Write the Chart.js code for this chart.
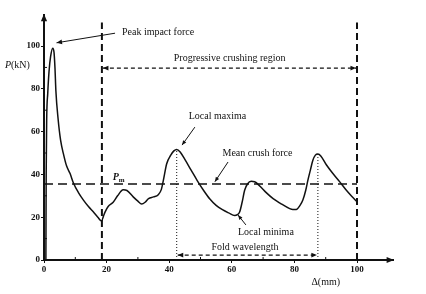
<!DOCTYPE html>
<html>
<head>
<meta charset="utf-8">
<script src="https://cdn.jsdelivr.net/npm/chart.js@4"></script>
<style>
  html, body { margin: 0; padding: 0; background: #fff; }
  #wrap { width: 426px; height: 294px; }
</style>
</head>
<body>
<div id="wrap"><canvas id="chart" width="426" height="294"></canvas></div>
<script>
// Crush force curve, displacement (mm) vs force (kN)
const dispMm = [0.6, 0.7, 0.85, 1.2, 1.6, 2.1, 2.8, 3.2, 3.5, 3.8, 4.5, 5.3, 6.3, 7.2, 8.3, 9.4, 11, 12.6, 14.2, 15.8,
    17.2, 18.4, 19.0, 19.5, 20.5, 22.1, 23.5, 25.3, 26.5, 28.5, 30, 31.2, 32.3, 33.4, 35, 36.5, 37.5, 38.1, 39.2, 40.5,
    41.5, 42.4, 43.5, 45, 47, 49, 51, 53, 55, 57, 59, 60.9, 61.8, 62.5, 63.3, 64.1, 65, 66.2, 67.3, 69,
    71, 73.2, 75.5, 78.5, 79.5, 80.6, 81.8, 82.7, 83.6, 84.3, 85.1, 85.9, 86.7, 87.5, 88.5, 90.2, 92.3, 94.5, 96.6, 98.3, 100];
const forceKn = [0, 40, 65, 78, 88, 95, 99, 97, 90, 79, 66, 56, 49, 44, 40.5, 36, 31.5, 28, 25, 22.4,
    20, 18.2, 20.5, 22.4, 25, 27, 30, 32.8, 32.5, 29.5, 27.5, 26.2, 27, 28.7, 29.5, 30.5, 33, 37, 45, 49,
    51, 51.7, 50.5, 47, 42, 37, 32.5, 28.5, 25.5, 23.5, 22, 20.8, 21.2, 22.4, 27, 32.6, 35.5, 36.8, 36.6, 34.5,
    31.5, 28.7, 26.5, 24, 23.6, 23.6, 25.5, 28, 32.5, 37.2, 42, 46.6, 49, 49.5, 48.5, 44.5, 40.4, 36.5, 32.6, 29.8, 27.2];

const meanForce = 35.5;
const regionStart = 18.5;
const regionEnd = 100;
const regionTop = 111;
const peakImpact = [4.0, 101.5];
const foldX = [42.4, 87.5];
const foldTop = [51.7, 49.5];
const xTicks = [0, 20, 40, 60, 80, 100];
const yTicks = [0, 20, 40, 60, 80, 100];

const serif = '"Liberation Serif", "DejaVu Serif", serif';
const ink = '#111';

const curve = dispMm.map((x, i) => ({ x: x, y: forceKn[i] }));

function lineSet(points, dash, width) {
    return {
        data: points,
        borderColor: ink,
        borderWidth: width,
        borderDash: dash,
        pointRadius: 0,
        tension: 0,
        fill: false
    };
}

function arrowHead(ctx, x1, y1, x2, y2, size) {
    const a = Math.atan2(y2 - y1, x2 - x1);
    ctx.beginPath();
    ctx.moveTo(x2, y2);
    ctx.lineTo(x2 - size * Math.cos(a - 0.4), y2 - size * Math.sin(a - 0.4));
    ctx.lineTo(x2 - size * Math.cos(a + 0.4), y2 - size * Math.sin(a + 0.4));
    ctx.closePath();
    ctx.fill();
}

function arrow(ctx, x1, y1, x2, y2, opts) {
    ctx.save();
    ctx.strokeStyle = ink;
    ctx.fillStyle = ink;
    ctx.lineWidth = opts.width || 1;
    ctx.setLineDash(opts.dash || []);
    ctx.beginPath();
    ctx.moveTo(x1, y1);
    ctx.lineTo(x2, y2);
    ctx.stroke();
    ctx.setLineDash([]);
    arrowHead(ctx, x1, y1, x2, y2, opts.head || 6);
    if (opts.both) arrowHead(ctx, x2, y2, x1, y1, opts.head || 6);
    ctx.restore();
}

const annotations = {
    id: 'annotations',
    afterDatasetsDraw(chart) {
        const ctx = chart.ctx;
        const xs = chart.scales.x;
        const ys = chart.scales.y;
        const area = chart.chartArea;
        const px = v => xs.getPixelForValue(v);
        const py = v => ys.getPixelForValue(v);

        // minor ticks
        ctx.save();
        ctx.strokeStyle = ink;
        ctx.lineWidth = 1;
        for (let v = 10; v < 100; v += 20) {
            ctx.beginPath();
            ctx.moveTo(px(v), area.bottom);
            ctx.lineTo(px(v), area.bottom - 3);
            ctx.stroke();
            ctx.beginPath();
            ctx.moveTo(area.left, py(v));
            ctx.lineTo(area.left + 3, py(v));
            ctx.stroke();
        }
        ctx.restore();

        // axis arrows
        arrow(ctx, area.left, area.top + 10, area.left, area.top - 1, { width: 2, head: 8 });
        arrow(ctx, area.right - 10, area.bottom, area.right + 1, area.bottom, { width: 2, head: 8 });

        // region and fold arrows
        arrow(ctx, px(regionStart) + 1, py(89.7), px(regionEnd) - 1, py(89.7), { dash: [4, 3], width: 1.2, head: 6, both: true });
        arrow(ctx, px(foldX[0]) + 1, py(2.3), px(foldX[1]) - 1, py(2.3), { dash: [4, 3], width: 1.2, head: 6, both: true });

        // callout arrows
        arrow(ctx, px(22.7), py(106), px(peakImpact[0]), py(peakImpact[1]), { width: 1, head: 6 });
        arrow(ctx, px(48.2), py(62.1), px(44.1), py(53.7), { width: 1, head: 5 });
        arrow(ctx, px(58.8), py(45.8), px(54.6), py(36.6), { width: 1, head: 5 });
        arrow(ctx, px(64.5), py(16.4), px(62), py(21), { width: 1, head: 5 });

        // labels
        ctx.save();
        ctx.fillStyle = ink;
        ctx.textBaseline = 'middle';
        ctx.font = '10px ' + serif;
        ctx.textAlign = 'left';
        ctx.fillText('Peak impact force', px(24.9), py(106.5));
        ctx.textAlign = 'center';
        ctx.fillText('Progressive crushing region', px(59.3), py(94.4));
        ctx.fillText('Local maxima', px(55.4), py(67.3));
        ctx.fillText('Mean crush force', px(68.2), py(50));
        ctx.fillText('Local minima', px(70.9), py(13.1));
        ctx.fillText('Fold wavelength', px(64.2), py(6));
        ctx.fillText('\u0394(mm)', px(90), area.bottom + 22);

        // P_m
        ctx.textAlign = 'left';
        ctx.font = 'italic bold 10px ' + serif;
        ctx.fillText('P', px(22), py(38.6));
        ctx.font = 'bold 7px ' + serif;
        ctx.fillText('m', px(22) + 6, py(37.4));

        // y axis title
        ctx.font = 'italic 10px ' + serif;
        ctx.fillText('P', area.left - 39, py(91));
        ctx.font = '10px ' + serif;
        ctx.fillText('(kN)', area.left - 33, py(91));
        ctx.restore();
    }
};

new Chart(document.getElementById('chart'), {
    type: 'line',
    data: {
        datasets: [
            {
                data: curve,
                borderColor: ink,
                borderWidth: 1.5,
                pointRadius: 0,
                cubicInterpolationMode: 'monotone',
                fill: false
            },
            lineSet([{ x: 0, y: meanForce }, { x: regionEnd, y: meanForce }], [9, 5], 1.5),
            lineSet([{ x: regionStart, y: 0 }, { x: regionStart, y: regionTop }], [7, 4], 2),
            lineSet([{ x: regionEnd, y: 0 }, { x: regionEnd, y: regionTop }], [7, 4], 2),
            lineSet([{ x: foldX[0], y: 0 }, { x: foldX[0], y: foldTop[0] }], [1, 2], 1),
            lineSet([{ x: foldX[1], y: 0 }, { x: foldX[1], y: foldTop[1] }], [1, 2], 1)
        ]
    },
    options: {
        responsive: false,
        animation: false,
        layout: { padding: { top: 15, right: 33, left: 0, bottom: 0 } },
        plugins: {
            legend: { display: false },
            tooltip: { enabled: false }
        },
        scales: {
            x: {
                type: 'linear',
                min: 0,
                max: 111.5,
                afterFit: s => { s.height = 34; },
                afterBuildTicks: s => { s.ticks = xTicks.map(v => ({ value: v })); },
                grid: { drawOnChartArea: false, drawTicks: true, tickLength: 3, color: ink },
                border: { display: true, color: ink, width: 2 },
                ticks: {
                    color: ink,
                    padding: 1,
                    maxRotation: 0,
                    font: { family: serif, size: 9, weight: 'bold' }
                }
            },
            y: {
                type: 'linear',
                min: 0,
                max: 114.5,
                afterFit: s => { s.width = 44; },
                afterBuildTicks: s => { s.ticks = yTicks.map(v => ({ value: v })); },
                grid: { drawOnChartArea: false, drawTicks: true, tickLength: 3, color: ink },
                border: { display: true, color: ink, width: 2 },
                ticks: {
                    color: ink,
                    padding: 1,
                    font: { family: serif, size: 9, weight: 'bold' }
                }
            }
        }
    },
    plugins: [annotations]
});
</script>
</body>
</html>
